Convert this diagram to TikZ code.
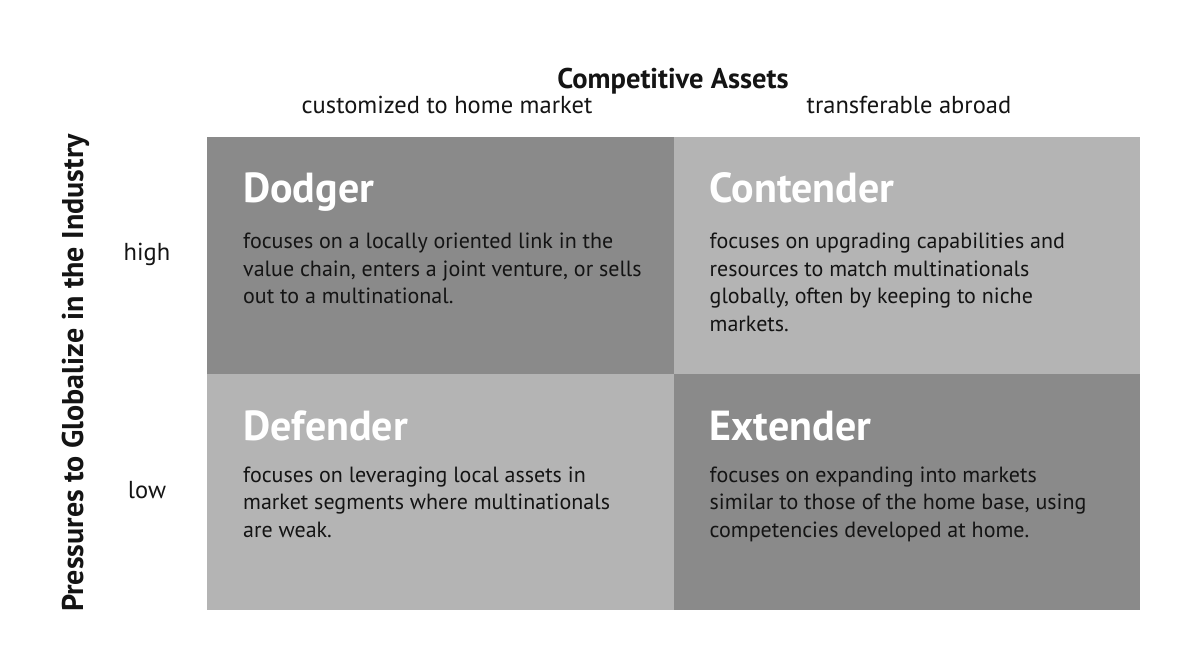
\documentclass[tikz,border=0pt]{standalone}
\usepackage{fontspec}
\setmainfont{PT Sans}
\usetikzlibrary{positioning}
\definecolor{celldark}{HTML}{8A8A8A}
\definecolor{celllight}{HTML}{B4B4B4}
\definecolor{inktext}{HTML}{141414}
\tikzset{
  cell/.style={minimum width=466.5pt, minimum height=236.5pt, inner sep=0pt, outer sep=0pt},
  quadtitle/.style={anchor=base west, inner sep=0pt, text=white, font=\fontsize{42}{44}\selectfont\bfseries},
  quadtext/.style={anchor=north west, inner sep=0pt, align=left, text=inktext, font=\fontsize{22}{27.5}\selectfont},
  axislabel/.style={anchor=base, inner sep=0pt, text=inktext, font=\fontsize{24.5}{28}\selectfont},
  axistitle/.style={anchor=base, inner sep=0pt, text=inktext, font=\fontsize{28.5}{32}\selectfont\bfseries}
}
\begin{document}
\begin{tikzpicture}[x=1pt, y=-1pt]
            \useasboundingbox[fill=white] (0,0) rectangle (1186,655);

            % The four quadrants
            \node[cell, fill=celldark, anchor=north west] (dodger) at (207,137) {};
            \node[cell, fill=celllight, right=0pt of dodger] (contender) {};
            \node[cell, fill=celllight, below=0pt of dodger] (defender) {};
            \node[cell, fill=celldark, right=0pt of defender] (extender) {};

            % Quadrant titles
            \node[quadtitle, xshift=36, yshift=-66] (dodgerT) at (dodger.north west) {Dodger};
            \node[quadtitle, xshift=36, yshift=-66] (contenderT) at (contender.north west) {Contender};
            \node[quadtitle, xshift=36, yshift=-67] (defenderT) at (defender.north west) {Defender};
            \node[quadtitle, xshift=36, yshift=-67] (extenderT) at (extender.north west) {Extender};

            % Quadrant descriptions
            \node[quadtext, xshift=36, yshift=-96] (dodgerD) at (dodger.north west)
                {focuses on a locally oriented link in the\\value chain, enters a joint venture, or sells\\out to a multinational.};
            \node[quadtext, xshift=36, yshift=-96] (contenderD) at (contender.north west)
                {focuses on upgrading capabilities and\\resources to match multinationals\\globally, often by keeping to niche\\markets.};
            \node[quadtext, xshift=36, yshift=-93] (defenderD) at (defender.north west)
                {focuses on leveraging local assets in\\market segments where multinationals\\are weak.};
            \node[quadtext, xshift=36, yshift=-93] (extenderD) at (extender.north west)
                {focuses on expanding into markets\\similar to those of the home base, using\\competencies developed at home.};

            % Axis labels
            \node[axistitle] (assetsT) at (673,89) {Competitive Assets};
            \node[axislabel] (homeL) at (447,114) {customized to home market};
            \node[axislabel] (abroadL) at (909,114) {transferable abroad};
            \node[axistitle, rotate=90, font=\fontsize{30}{32}\selectfont\bfseries] (pressureT) at (83,373) {Pressures to Globalize in the Industry};
            \node[axislabel] (highL) at (147,260) {high};
            \node[axislabel] (lowL) at (147,498) {low};
        \end{tikzpicture}
\end{document}
